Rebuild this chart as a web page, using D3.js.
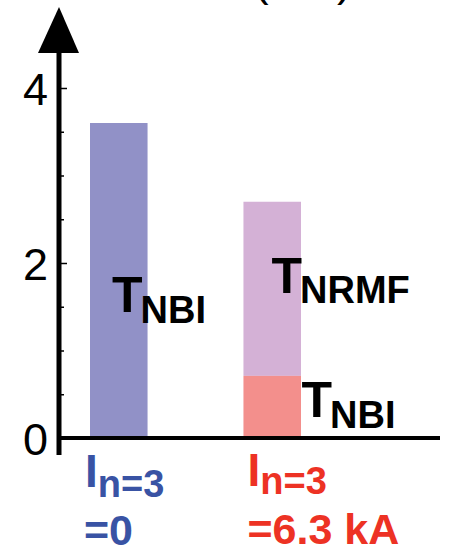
<!DOCTYPE html>
<html>
<head>
<meta charset="utf-8">
<script src="https://cdn.jsdelivr.net/npm/d3@7"></script>
<style>
  html, body { margin: 0; padding: 0; background: #fff; }
  svg { display: block; font-family: "Liberation Sans", Arial, Helvetica, sans-serif; }
</style>
</head>
<body>
<svg id="chart" width="449" height="549"></svg>
<script>
// Torque contributions for the two coil currents
const categories = ['I0', 'I63']
const nbiValues = [3.6, 0.71]      // T_NBI
const nrmfValues = [0, 1.99]       // T_NRMF stacked on top
const majorTicks = [0, 2, 4]
const minorTicks = [0.5, 1, 1.5, 2.5, 3, 3.5]

const svg = d3.select('#chart')

const y = d3.scaleLinear().domain([0, 4]).range([438, 88])
const x = d3.scaleBand().domain(categories).range([90, 301]).paddingInner(0.625).paddingOuter(0)

const colors = { nbi0: '#9191c7', nbi1: '#f38f8c', nrmf: '#d4b1d6' }

// ── bars ──
const stacked = categories.map((c, i) => ({ c, nbi: nbiValues[i], nrmf: nrmfValues[i] }))

svg.append('g').selectAll('rect.nrmf')
  .data(stacked.filter(d => d.nrmf > 0))
  .join('rect')
  .attr('x', d => x(d.c))
  .attr('width', x.bandwidth())
  .attr('y', d => y(d.nbi + d.nrmf))
  .attr('height', d => y(d.nbi) - y(d.nbi + d.nrmf))
  .attr('fill', colors.nrmf)

svg.append('g').selectAll('rect.nbi')
  .data(stacked)
  .join('rect')
  .attr('x', d => x(d.c))
  .attr('width', x.bandwidth())
  .attr('y', d => y(d.nbi))
  .attr('height', d => y(0) - y(d.nbi))
  .attr('fill', (d, i) => i === 0 ? colors.nbi0 : colors.nbi1)

// ── axes ──
const ax = 59
svg.append('line')
  .attr('x1', ax).attr('x2', ax).attr('y1', 50).attr('y2', 455)
  .attr('stroke', '#000').attr('stroke-width', 5)
svg.append('path')
  .attr('d', `M${ax},7 L${ax + 20},53 L${ax - 21},53 Z`)
  .attr('fill', '#000')
svg.append('line')
  .attr('x1', ax - 2).attr('x2', 440).attr('y1', y(0)).attr('y2', y(0))
  .attr('stroke', '#000').attr('stroke-width', 4)

// ticks point inward, labels on the left
const minorAxis = svg.append('g').attr('transform', `translate(${ax},0)`)
  .call(d3.axisRight(y).tickValues(minorTicks).tickSize(5).tickFormat(''))
const majorAxis = svg.append('g').attr('transform', `translate(${ax},0)`)
  .call(d3.axisRight(y).tickValues(majorTicks.slice(1)).tickSize(8).tickFormat(''))
;[minorAxis, majorAxis].forEach(g => {
  g.select('.domain').remove()
  g.selectAll('line').attr('stroke', '#000').attr('stroke-width', 1.5)
})

const labelAxis = svg.append('g').attr('transform', `translate(${ax - 11},0)`)
  .call(d3.axisLeft(y).tickValues(majorTicks).tickSize(0).tickPadding(0).tickFormat(d3.format('d')))
labelAxis.select('.domain').remove()
labelAxis.selectAll('text')
  .attr('font-family', '"Liberation Sans", Arial, sans-serif')
  .attr('font-size', 45)
  .attr('fill', '#000')
  .attr('dy', null)
  .attr('y', 16)

// ── in-plot labels ──
function subLabel(px, py, main, sub, color, mainSize, subSize, drop, subDx) {
  const t = svg.append('text')
    .attr('x', px).attr('y', py)
    .attr('fill', color)
    .attr('font-weight', 'bold')
  t.append('tspan').attr('font-size', mainSize).text(main)
  t.append('tspan').attr('font-size', subSize).attr('dx', subDx || 0).attr('dy', drop).text(sub)
  return t
}

const bx0 = x(categories[0]), bx1 = x(categories[1])
subLabel(bx0 + 22, 312, 'T', 'NBI', '#000', 50, 38, 11, -2)
subLabel(bx1 + 28, y(nbiValues[1] + nrmfValues[1] / 2) + 4, 'T', 'NRMF', '#000', 50, 38, 10, -2)
subLabel(bx1 + 58, 417, 'T', 'NBI', '#000', 50, 38, 11, -2)

// category labels below the axis
subLabel(bx0 - 5, 487, 'I', 'n=3', '#3953a4', 46, 38, 10, 0)
svg.append('text').attr('x', bx0 - 6).attr('y', 545)
  .attr('fill', '#3953a4').attr('font-weight', 'bold').attr('font-size', 43).text('=0')
subLabel(bx1 + 4, 486, 'I', 'n=3', '#ed3224', 46, 38, 8, 0)
svg.append('text').attr('x', bx1 + 4).attr('y', 544)
  .attr('fill', '#ed3224').attr('font-weight', 'bold').attr('font-size', 43).text('=6.3 kA')

// axis title, cut off by the top edge
svg.append('text').attr('x', 254).attr('y', -4)
  .attr('font-size', 44).attr('fill', '#000').text('(Nm)')
</script>
</body>
</html>
